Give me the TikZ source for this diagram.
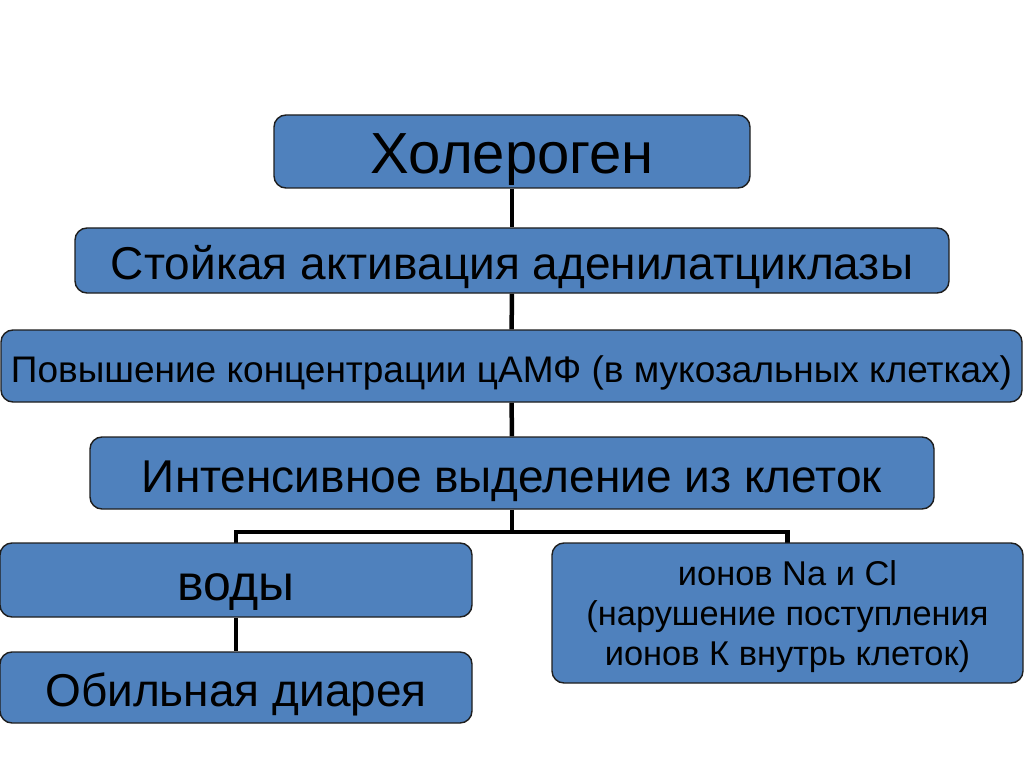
\documentclass[tikz,border=0pt]{standalone}
\usepackage{fontspec}
\setmainfont{Liberation Sans}
\usetikzlibrary{backgrounds}
\definecolor{boxblue}{HTML}{4F81BD}
\definecolor{boxline}{HTML}{1E1E1E}
\tikzset{
  box/.style={draw=boxline, line width=1.4pt, fill=boxblue, rounded corners=12pt,
    inner sep=0pt, align=center, text=black},
  link/.style={line width=4.5pt, black}
}
\begin{document}
\begin{tikzpicture}[x=1pt,y=-1pt]
\useasboundingbox (0,0) rectangle (1024,767);
\node[box, minimum width=476pt, minimum height=73pt, font=\fontsize{58}{64}\selectfont, text height=44.5pt, text depth=0pt] (A) at (512,151.5) {Холероген};
\node[box, minimum width=874pt, minimum height=65pt, font=\fontsize{46}{52}\selectfont, text height=38.9pt, text depth=0pt] (B) at (512,260.5) {Стойкая активация аденилатциклазы};
\node[box, minimum width=1021pt, minimum height=72pt, font=\fontsize{37}{42}\selectfont, text height=32.5pt, text depth=0pt] (C) at (511.5,366) {Повышение концентрации цАМФ (в мукозальных клетках)};
\node[box, minimum width=844pt, minimum height=72pt, font=\fontsize{46}{52}\selectfont, text height=38.9pt, text depth=0pt] (D) at (512,473) {Интенсивное выделение из клеток};
\node[box, minimum width=472pt, minimum height=74pt, font=\fontsize{50}{56}\selectfont, text height=40pt, text depth=0pt] (E) at (236,580) {воды};
\node[box, minimum width=471pt, minimum height=140pt, font=\fontsize{34.4}{40}\selectfont, text height=104.6pt, text depth=0pt] (F) at (787.5,613) {ионов Na и Cl\\(нарушение поступления\\ионов К внутрь клеток)};
\node[box, minimum width=472pt, minimum height=71pt, font=\fontsize{46}{52}\selectfont, text height=38.9pt, text depth=0pt] (G) at (236,687.5) {Обильная диарея};
\coordinate (j) at (512,532);
\begin{scope}[on background layer]
\draw[link] (A) -- (B);
\draw[link] (B) -- (C);
\draw[link] (C) -- (D);
\draw[link] (D) -- (j);
\draw[link, line cap=rect] (E.north) |- (j) -| (F.north);
\draw[link] (E) -- (G);
\end{scope}
\end{tikzpicture}
\end{document}
